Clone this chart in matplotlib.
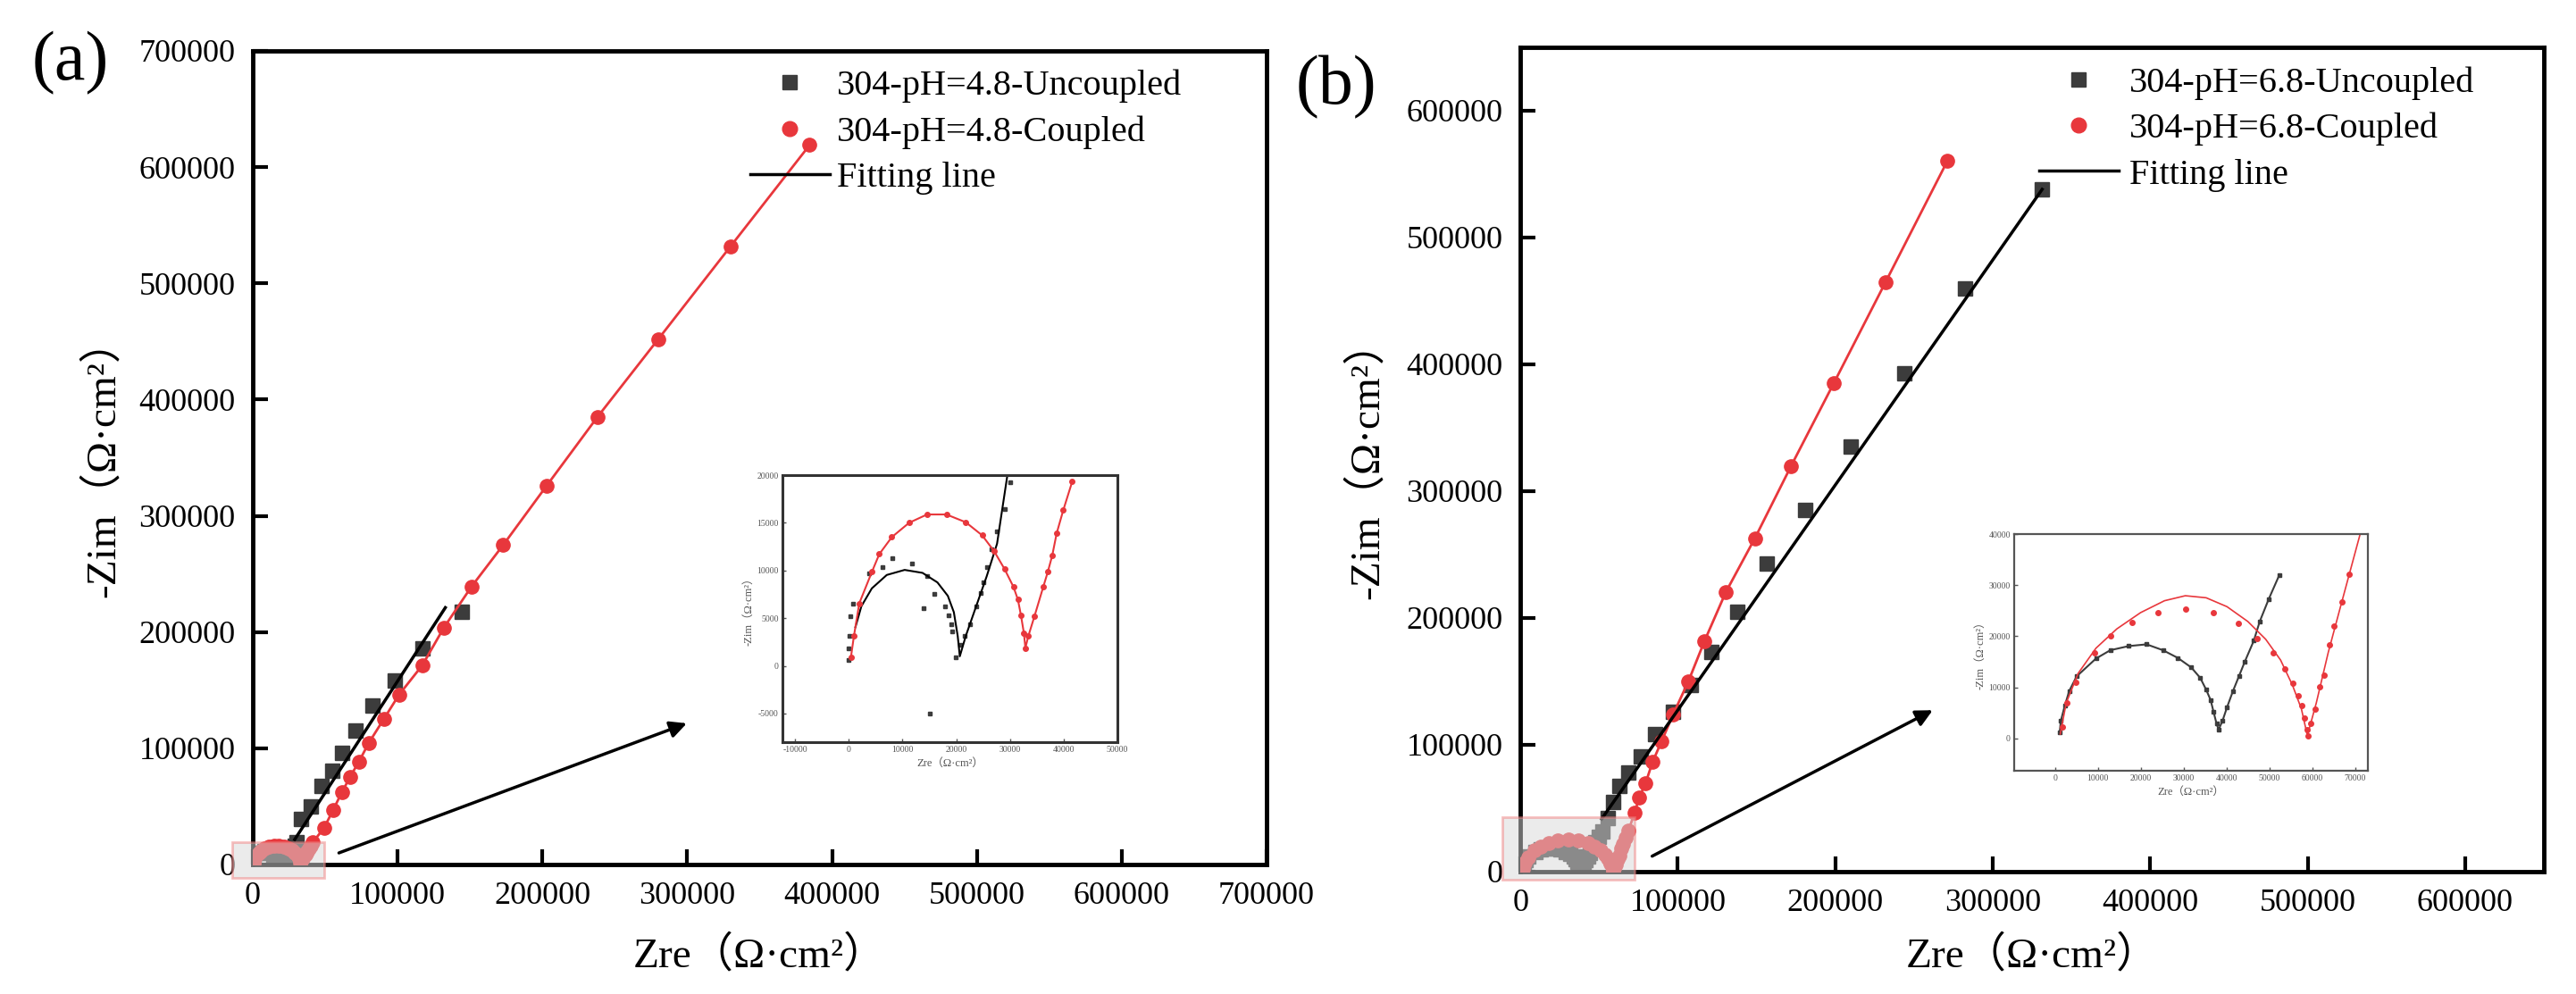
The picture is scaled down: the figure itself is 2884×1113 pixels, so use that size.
import matplotlib
matplotlib.use("Agg")
import matplotlib.pyplot as plt
from matplotlib.lines import Line2D
from matplotlib.patches import Rectangle

plt.rcParams['font.family'] = ['Liberation Serif', 'Noto Sans CJK SC']
plt.rcParams['axes.unicode_minus'] = False

RED = '#e8373c'
DARK = '#3c3c3c'

# ---------------- panel (a): pH 4.8 ----------------
# small-scale (inset) part of the spectra
a_unc_lo_x = [0, 0, 110, 220, 780, 3720, 6220, 8170, 11780, 14560, 15940, 14000, 15110,
              17890, 18610, 19000, 19280, 19830, 20670, 21500, 22610, 23720, 24560,
              25110, 25670, 26500, 27610, 29000, 30110]
a_unc_lo_y = [625, 1875, 3125, 5160, 6560, 9690, 10310, 11250, 10690, 9375, 7500, 6000, -5000,
              6250, 5310, 4375, 3590, 940, 2190, 3125, 4375, 6250, 7660,
              8750, 10310, 12190, 14060, 16400, 19220]
a_cou_lo_x = [390, 940, 1940, 4280, 5670, 8000, 11220, 14560, 18170, 21780, 24830, 27060,
              29000, 30670, 31500, 32060, 32610, 32890, 33440, 34560, 36220, 37060,
              37890, 38720, 39940, 41610]
a_cou_lo_y = [940, 3125, 6560, 9840, 11720, 13500, 15000, 15875, 15875, 15060, 13690, 12030,
              10160, 8280, 6940, 5310, 3440, 1875, 3125, 5160, 8280, 9840,
              11560, 13900, 16310, 19310]
# large-scale part
a_unc_hi_x = [33300, 40000, 47400, 54800, 61600, 70900, 82600, 98000, 117100, 144200]
a_unc_hi_y = [39200, 50000, 67600, 80700, 96100, 115300, 136800, 158300, 186000, 217500]
a_cou_hi_x = [49300, 55500, 61600, 67200, 73300, 80100, 90600, 101000, 117100, 131900,
              151000, 173000, 203000, 238000, 280000, 330000, 384500]
a_cou_hi_y = [31500, 46900, 62200, 75300, 88400, 104500, 125300, 146000, 171400, 203600,
              239000, 275000, 326000, 385000, 452000, 532000, 619000]
# fitting lines
a_fit_x = [29000, 133000]
a_fit_y = [21500, 221000]
a_fit_lo_x = [1220, 2330, 4280, 7060, 10390, 13720, 16500, 18440, 19560, 20280, 20670,
              21780, 23720, 25670, 27610, 29560]
a_fit_lo_y = [4060, 6250, 8125, 9530, 10060, 9750, 8750, 7340, 5625, 3125, 1000,
              3125, 6250, 9375, 12810, 20090]

# ---------------- panel (b): pH 6.8 ----------------
b_unc_lo_x = [1110, 1390, 2290, 3330, 5070, 9580, 12920, 17220, 21390, 25210, 28680, 31810,
              33890, 35280, 36320, 37010, 37710, 38190, 39100, 40140, 41530, 42920,
              44310, 46390, 47780, 49860, 52290]
b_unc_lo_y = [1160, 3480, 6380, 9280, 12170, 15650, 17280, 18090, 18430, 17280, 15770, 13910,
              11880, 9570, 7540, 5220, 2900, 1740, 3480, 6090, 9280, 12170,
              15070, 19130, 22900, 27250, 31880]
b_cou_lo_x = [1810, 2780, 4860, 9240, 12920, 17920, 24030, 30420, 37010, 42780, 47080, 50900,
              53680, 55420, 56670, 57500, 58190, 58750, 59030, 59720, 60630, 61670,
              62710, 64100, 65140, 66880, 68610]
b_cou_lo_y = [2320, 6960, 11010, 16810, 20000, 22720, 24640, 25390, 24640, 22490, 19590, 16810,
              13620, 10900, 8410, 6380, 4060, 1740, 580, 2900, 5800, 10140,
              12460, 18260, 22030, 26670, 32170]
b_unc_hi_x = [55500, 59000, 63000, 68700, 76600, 85700, 97000, 108400, 121500, 137900,
              156400, 181000, 210000, 243700, 282600, 331400]
b_unc_hi_y = [42000, 55000, 67600, 78200, 90800, 108500, 126100, 147200, 173200, 204900,
              243000, 285000, 335000, 393000, 460000, 538000]
b_cou_hi_x = [72600, 75500, 79500, 84000, 89700, 97000, 106700, 116900, 130500, 149000,
              172000, 199000, 232000, 271300]
b_cou_hi_y = [46500, 58500, 69700, 86600, 102800, 123900, 150000, 181700, 220400, 263000,
              320000, 385000, 465000, 560600]
b_fit_x = [51600, 331400]
b_fit_y = [41500, 538000]
b_fit_lo_x = [1250, 2640, 5420, 9580, 14440, 20000, 25560, 30420, 35280, 40140, 45000,
              49170, 52640, 55420, 57500, 58890, 60970, 63750, 66530, 71200]
b_fit_lo_y = [870, 6960, 12750, 17680, 21450, 24640, 26960, 27940, 27540, 25800, 22900,
              19420, 15360, 10430, 5800, 580, 6960, 16810, 25510, 40000]

labels_a = ['304-pH=4.8-Uncoupled', '304-pH=4.8-Coupled', 'Fitting line']
labels_b = ['304-pH=6.8-Uncoupled', '304-pH=6.8-Coupled', 'Fitting line']
xlab = 'Zre（Ω·cm²）'
ylab = '-Zim（Ω·cm²）'


def style_main(ax, xmax, ymax):
    ax.set_xlim(0, xmax)
    ax.set_ylim(0, ymax)
    for s in ax.spines.values():
        s.set_linewidth(3.5)
    ax.tick_params(direction='in', length=12, width=3, labelsize=26, pad=14)


def style_inset(ax, lw, col):
    for s in ax.spines.values():
        s.set_linewidth(lw)
        s.set_color(col)
    ax.tick_params(direction='in', length=3, width=1, labelsize=7, pad=3,
                   colors='#555555')
    ax.set_xlabel(xlab, fontsize=9, color='#555555', labelpad=3)
    ax.set_ylabel(ylab, fontsize=9, color='#555555', labelpad=2)


fig = plt.figure(figsize=(28.84, 11.13), dpi=100)

# ---------- (a) ----------
ax1 = fig.add_axes([0.0981, 0.1303, 0.3936, 0.8185])
ax1.plot(a_unc_lo_x + a_unc_hi_x, a_unc_lo_y + a_unc_hi_y, 's', color=DARK, ms=12, zorder=2)
ax1.plot(a_cou_lo_x + a_cou_hi_x, a_cou_lo_y + a_cou_hi_y, '-o', color=RED, lw=2, ms=11, zorder=3)
ax1.plot(a_fit_x, a_fit_y, '-', color='k', lw=2.5, zorder=4)
ax1.add_patch(Rectangle((-14200, -11500), 63500, 30700, facecolor='#d8d8d8', alpha=0.5,
                        edgecolor='#f08080', lw=2, clip_on=False, zorder=6))
ax1.annotate('', xy=(301300, 122200), xytext=(57900, 9200),
             arrowprops=dict(arrowstyle='-|>', color='k', lw=2.5, mutation_scale=28))
style_main(ax1, 700000, 700000)
ax1.set_xticks(range(0, 700001, 100000))
ax1.set_yticks(range(0, 700001, 100000))
ax1.set_xlabel(xlab, fontsize=34)
ax1.set_ylabel(ylab, fontsize=34)
ax1.xaxis.set_label_coords(0.5, -0.087)
ax1.yaxis.set_label_coords(-0.128, 0.5)
h_a = [Line2D([], [], ls='none', marker='s', color=DARK, ms=12),
       Line2D([], [], ls='none', marker='o', color=RED, ms=12),
       Line2D([], [], color='k', lw=2.5)]
ax1.legend(h_a, labels_a, loc='upper left', bbox_to_anchor=(0.4907, 0.977), frameon=False,
           fontsize=29, handlelength=2.2, handletextpad=0.22, borderpad=0,
           borderaxespad=0, labelspacing=0.35)

ins1 = fig.add_axes([0.3037, 0.2534, 0.1300, 0.2686])
ins1.plot(a_unc_lo_x, a_unc_lo_y, 's', color=DARK, ms=3.5)
ins1.plot(a_fit_lo_x, a_fit_lo_y, '-', color='k', lw=1.5)
ins1.plot(a_cou_lo_x, a_cou_lo_y, '-o', color=RED, lw=1.5, ms=4)
ins1.set_xlim(-12400, 50000)
ins1.set_ylim(-8000, 20000)
ins1.set_xticks(range(-10000, 50001, 10000))
ins1.set_yticks(range(-5000, 20001, 5000))
style_inset(ins1, 2.2, '#333333')

# ---------- (b) ----------
ax2 = fig.add_axes([0.5902, 0.1231, 0.3973, 0.8293])
ax2.plot(b_unc_lo_x + b_unc_hi_x, b_unc_lo_y + b_unc_hi_y, 's', color=DARK, ms=12, zorder=2)
ax2.plot(b_cou_lo_x + b_cou_hi_x, b_cou_lo_y + b_cou_hi_y, '-o', color=RED, lw=2, ms=11, zorder=3)
ax2.plot(b_fit_x, b_fit_y, '-', color='k', lw=2.5, zorder=4)
ax2.add_patch(Rectangle((-11300, -6300), 83900, 49300, facecolor='#d8d8d8', alpha=0.5,
                        edgecolor='#f08080', lw=2, clip_on=False, zorder=6))
ax2.annotate('', xy=(263300, 128200), xytext=(82300, 11300),
             arrowprops=dict(arrowstyle='-|>', color='k', lw=2.5, mutation_scale=28))
style_main(ax2, 650000, 650000)
ax2.set_xticks(range(0, 600001, 100000))
ax2.set_yticks(range(0, 600001, 100000))
ax2.set_xlabel(xlab, fontsize=34)
ax2.set_ylabel(ylab, fontsize=34)
ax2.xaxis.set_label_coords(0.5, -0.077)
ax2.yaxis.set_label_coords(-0.130, 0.5)
h_b = [Line2D([], [], ls='none', marker='s', color=DARK, ms=12),
       Line2D([], [], ls='none', marker='o', color=RED, ms=12),
       Line2D([], [], color='k', lw=2.5)]
ax2.legend(h_b, labels_b, loc='upper left', bbox_to_anchor=(0.507, 0.977), frameon=False,
           fontsize=29, handlelength=2.2, handletextpad=0.3, borderpad=0,
           borderaxespad=0, labelspacing=0.35)

ins2 = fig.add_axes([0.7819, 0.2246, 0.1373, 0.2381])
ins2.plot(b_unc_lo_x, b_unc_lo_y, '-s', color=DARK, lw=1.5, ms=3.5)
ins2.plot(b_fit_lo_x, b_fit_lo_y, '-', color=RED, lw=1.2)
ins2.plot(b_cou_lo_x, b_cou_lo_y, 'o', color=RED, ms=4)
ins2.set_xlim(-9500, 73000)
ins2.set_ylim(-6300, 40000)
ins2.set_xticks(range(0, 70001, 10000))
ins2.set_yticks(range(0, 40001, 10000))
style_inset(ins2, 1.6, '#555555')

fig.text(0.0274, 0.937, '(a)', fontsize=56, ha='center', va='center')
fig.text(0.5187, 0.912, '(b)', fontsize=56, ha='center', va='center')

fig.savefig('out.png', dpi=100)
